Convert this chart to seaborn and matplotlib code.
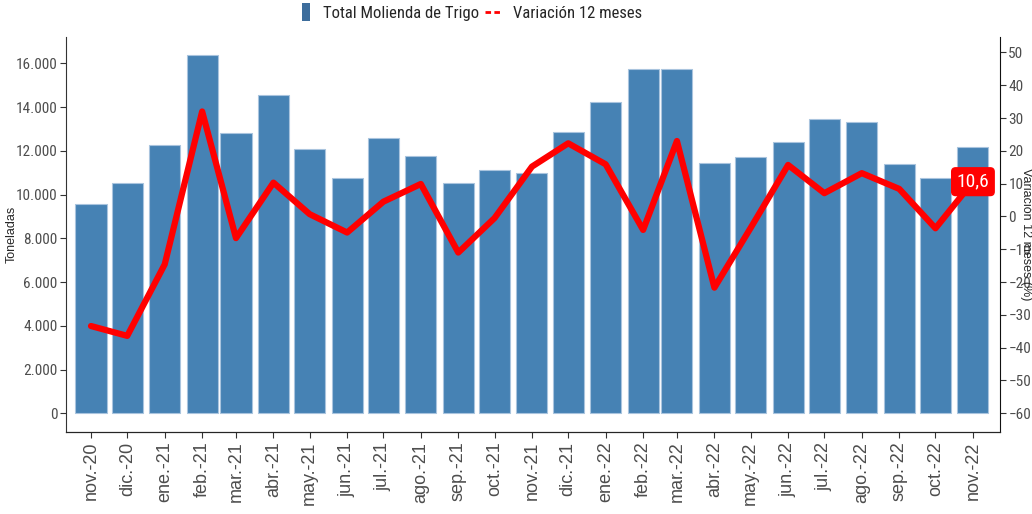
#!/usr/bin/env python3

import pandas as pd
import numpy as np
import matplotlib
matplotlib.use('Agg')
import matplotlib.pyplot as plt
import matplotlib.dates as mdates
from matplotlib import font_manager
from matplotlib.patches import Patch, Rectangle
from matplotlib.lines import Line2D
from matplotlib.legend_handler import HandlerPatch
from matplotlib.ticker import FuncFormatter, MultipleLocator
import seaborn as sns

# Datos
meses = ['2020-11-01', '2020-12-01', '2021-01-01', '2021-02-01', '2021-03-01',
         '2021-04-01', '2021-05-01', '2021-06-01', '2021-07-01', '2021-08-01',
         '2021-09-01', '2021-10-01', '2021-11-01', '2021-12-01', '2022-01-01',
         '2022-02-01', '2022-03-01', '2022-04-01', '2022-05-01', '2022-06-01',
         '2022-07-01', '2022-08-01', '2022-09-01', '2022-10-01', '2022-11-01']
etiquetas = ['nov.-20', 'dic.-20', 'ene.-21', 'feb.-21', 'mar.-21', 'abr.-21',
             'may.-21', 'jun.-21', 'jul.-21', 'ago.-21', 'sep.-21', 'oct.-21',
             'nov.-21', 'dic.-21', 'ene.-22', 'feb.-22', 'mar.-22', 'abr.-22',
             'may.-22', 'jun.-22', 'jul.-22', 'ago.-22', 'sep.-22', 'oct.-22',
             'nov.-22']
molienda = [9570, 10510, 12280, 16370, 12800, 14570, 12070, 10740, 12570, 11750,
            10540, 11110, 10970, 12880, 14230, 15730, 15750, 11430, 11700, 12400,
            13450, 13320, 11410, 10740, 12160]
variacion = [-33.4, -36.4, -14.6, 32.0, -6.6, 10.3, 0.7, -4.9, 4.5, 9.9,
             -11.0, -0.5, 15.2, 22.3, 15.9, -4.1, 23.0, -21.7, -3.5, 15.7,
             7.1, 13.2, 8.4, -3.6, 10.6]

AZUL = '#4682b4'
ROJO = '#ff0000'
GRIS = '#4d4d4d'
NORMAL = ['Liberation Sans', 'DejaVu Sans']

# Fuente estrecha si existe (Arial Narrow en el original)
instaladas = {f.name for f in font_manager.fontManager.ttflist}
estrecha = None
for nombre in ['Liberation Sans Narrow', 'Arial Narrow', 'Roboto Condensed',
               'Open Sans Condensed', 'DejaVu Sans Condensed']:
    if nombre in instaladas:
        estrecha = nombre
        break
if estrecha:
    ESTRECHA = [estrecha] + NORMAL
    tam_tick, tam_leg, tam_lab = 11, 12, 14
else:
    ESTRECHA = NORMAL
    tam_tick, tam_leg, tam_lab = 9.5, 10.5, 12

sns.set_style('ticks')
plt.rcParams['font.family'] = NORMAL

x = mdates.date2num(pd.to_datetime(meses))
df = pd.DataFrame({'fecha': x, 'molienda': molienda, 'variacion': variacion})

fig = plt.figure(figsize=(10.32, 5.14), dpi=100)
ax = fig.add_axes([66 / 1032, 1 - 432 / 514, 934 / 1032, 395 / 514])

# Barras en escala de fechas (ancho aprox. 25.7 días, separación mínima 28 días)
sns.barplot(data=df, x='fecha', y='molienda', native_scale=True, width=25.7 / 28,
            color=AZUL, saturation=1, edgecolor='#a9c4de', linewidth=0.8,
            errorbar=None, ax=ax)

ax.set_xlim(x[0] - 20.7, x[-1] + 22.4)
ax.set_ylim(-855, 17200)
ax.yaxis.set_major_locator(MultipleLocator(2000))
ax.yaxis.set_major_formatter(FuncFormatter(lambda v, p: f'{int(v):,}'.replace(',', '.')))
ax.set_xticks(x)
ax.set_xticklabels(etiquetas, rotation=90, fontsize=13, family=NORMAL)
for t in ax.get_yticklabels():
    t.set_family(ESTRECHA)
ax.set_xlabel('')
ax.set_ylabel('')
ax.tick_params(axis='y', labelsize=tam_tick, colors='#333333', labelcolor=GRIS,
               length=4, width=0.8, pad=2)
ax.tick_params(axis='x', colors='#333333', labelcolor=GRIS, length=4, width=0.8, pad=3)
for s in ['top', 'right']:
    ax.spines[s].set_visible(False)
ax.spines['left'].set_color('#333333')
ax.spines['bottom'].set_color('#111111')

# Línea de variación en eje secundario
ax2 = ax.twinx()
sns.lineplot(data=df, x='fecha', y='variacion', color=ROJO, linewidth=4.5,
             ax=ax2, legend=False)
ax2.set_ylim(-65.7, 54.7)
ax2.yaxis.set_major_locator(MultipleLocator(10))
ax2.set_xlim(ax.get_xlim())
ax2.set_ylabel('')
ax2.tick_params(axis='y', labelsize=tam_tick, colors='#333333', labelcolor=GRIS,
                length=4, width=0.8, pad=2)
for t in ax2.get_yticklabels():
    t.set_family(ESTRECHA)
ax2.spines['top'].set_visible(False)
ax2.spines['left'].set_visible(False)
ax2.spines['right'].set_color('#111111')

# Títulos de ejes
fig.text(12 / 1032, 1 - 234.5 / 514, 'Toneladas', rotation=90, fontsize=9,
         ha='center', va='center', family=NORMAL)
fig.text(1026 / 1032, 1 - 234.5 / 514, 'Variación 12 meses (%)', rotation=270,
         fontsize=9, ha='center', va='center', family=NORMAL)

# Etiqueta del último valor
ultimo = variacion[-1]
ax2.text(x[-1], ultimo, f'{ultimo:.1f}'.replace('.', ','), color='white', fontsize=tam_lab,
         ha='center', va='center', family=ESTRECHA,
         bbox=dict(boxstyle='round,pad=0.25,rounding_size=0.2', fc=ROJO, ec=ROJO))


# Leyenda: rectángulo estrecho para las barras, guiones para la línea
def rect_estrecho(legend, orig_handle, xdescent, ydescent, width, height, fontsize):
    return Rectangle((-xdescent + width * 0.45, -ydescent - height * 0.3),
                     width * 0.5, height * 1.6)


handles = [Patch(facecolor='#3d6d9c', edgecolor='none'),
           Line2D([0], [0], color=ROJO, linestyle=(0, (2, 1.2)), linewidth=2)]
fig.legend(handles, ['Total Molienda de Trigo', 'Variación 12 meses'], loc='upper center',
           bbox_to_anchor=(0.454, 1.018), ncol=2, frameon=False,
           prop={'family': ESTRECHA, 'size': tam_leg},
           handlelength=0.95, handletextpad=0.7, columnspacing=0.4,
           handler_map={Patch: HandlerPatch(patch_func=rect_estrecho)})

fig.savefig('out.png', dpi=100)
plt.close(fig)
